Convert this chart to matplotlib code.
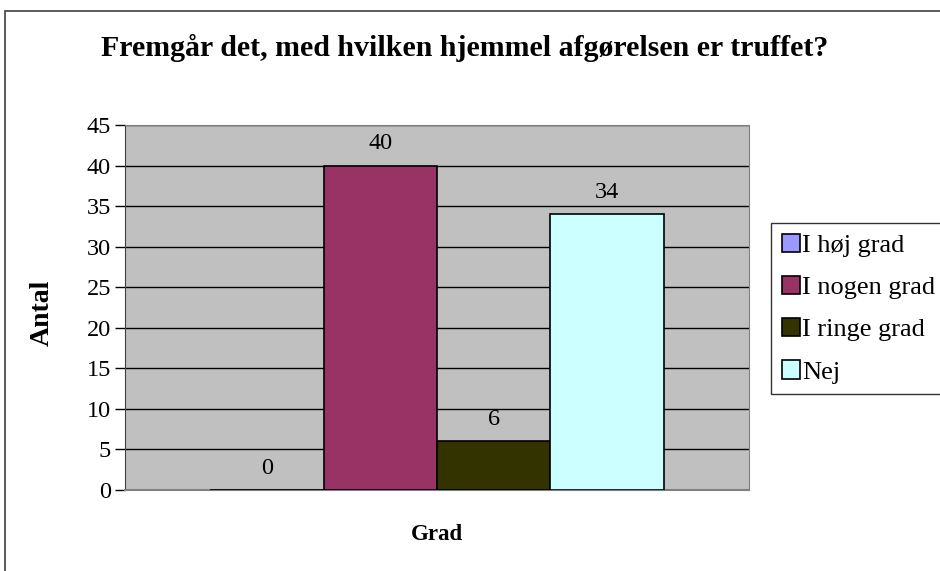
import matplotlib.pyplot as plt
from matplotlib.patches import Rectangle
import numpy as np

plt.rcParams['font.family'] = ['Liberation Serif', 'DejaVu Serif']

title = 'Fremgår det, med hvilken hjemmel afgørelsen er truffet?'
serier = ['I høj grad', 'I nogen grad', 'I ringe grad', 'Nej']
antal = [0, 40, 6, 34]
farver = ['#9999FF', '#993366', '#333300', '#CCFFFF']
yticks = [0, 5, 10, 15, 20, 25, 30, 35, 40, 45]

fig = plt.figure(figsize=(9.4, 5.71), dpi=100)
W, H = 940, 571

# ramme om diagramomraadet (fortsaetter ud over hoejre og nederste kant)
fig.patches.append(Rectangle((5 / W, -0.2), 1.2, 1.2 - 11 / H, transform=fig.transFigure,
                             fill=False, edgecolor='#404040', linewidth=1.2))

ax = fig.add_axes([125 / W, 1 - 490 / H, (749 - 125) / W, (490 - 125) / H])
ax.set_facecolor('#C0C0C0')

# Excel-agtig gruppering: 4 soejler, mellemrum 150 %
bw = 1 / 5.5
x = (np.arange(len(antal)) - 1.5) * bw
for xi, v, c, s in zip(x, antal, farver, serier):
    ax.bar(xi, v, width=bw, color=c, edgecolor='black', linewidth=1.2, label=s, zorder=3)
    ax.text(xi, v + 1.4, str(v), ha='center', va='bottom', fontsize=17.5, zorder=4)

ax.set_xlim(-0.5, 0.5)
ax.set_ylim(0, 45)
ax.set_yticks(yticks)
ax.set_xticks([])
ax.tick_params(axis='y', labelsize=17.5, length=7, width=1, direction='out', pad=3)
ax.yaxis.grid(True, color='black', linewidth=1)
ax.set_axisbelow(True)
for side in ['top', 'right']:
    ax.spines[side].set_color('#808080')
ax.spines['left'].set_color('#404040')
ax.spines['bottom'].set_color('#808080')
ax.spines['bottom'].set_linewidth(1.5)

fig.text(465 / W, 1 - 48 / H, title, ha='center', va='center',
         fontsize=21.5, fontweight='bold')
fig.text(42 / W, 1 - 313 / H, 'Antal', ha='center', va='center', rotation=90,
         fontsize=20, fontweight='bold')
fig.text(437 / W, 1 - 534 / H, 'Grad', ha='center', va='center',
         fontsize=16.5, fontweight='bold')

leg = fig.legend(loc='upper left', bbox_to_anchor=(771 / W, 1 - 223 / H),
                 frameon=True, fancybox=False, fontsize=19, handlelength=0.68,
                 handleheight=0.68, handletextpad=0.1, labelspacing=0.72,
                 borderpad=0.4, borderaxespad=0)
leg.get_frame().set_edgecolor('black')
leg.get_frame().set_linewidth(1)

fig.savefig('out.png', dpi=100)
